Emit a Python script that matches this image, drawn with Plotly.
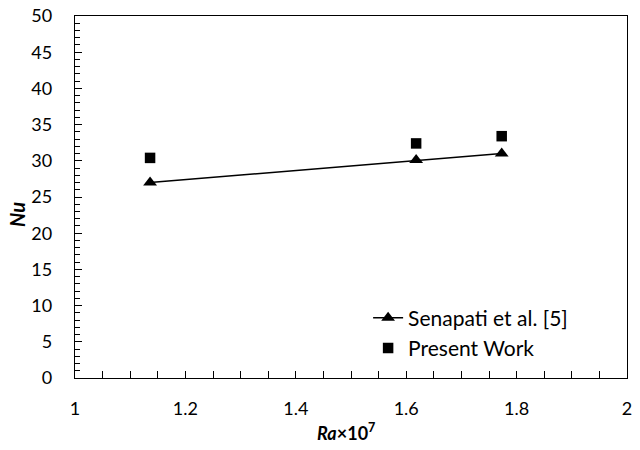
import plotly.graph_objects as go

ra = [1.136, 1.618, 1.773]
nu_senapati = [27.0, 30.1, 31.0]
nu_present = [30.4, 32.4, 33.4]
x_ticks = [1, 1.2, 1.4, 1.6, 1.8, 2]
x_tick_labels = ["1", "1.2", "1.4", "1.6", "1.8", "2"]

FONT = "Lato"

fig = go.Figure()
fig.add_trace(go.Scatter(
    x=ra, y=nu_senapati, mode="lines+markers", name="Senapati et al. [5]",
    line=dict(color="black", width=1.6),
    marker=dict(symbol="triangle-up", size=12, color="black"),
    legendgroup="a",
))
fig.add_trace(go.Scatter(
    x=ra, y=nu_present, mode="markers", name="Present Work",
    marker=dict(symbol="square", size=10.5, color="black"),
    legendgroup="b",
))

fig.update_layout(
    width=640, height=450,
    margin=dict(l=75, r=13, t=16, b=72),
    paper_bgcolor="white", plot_bgcolor="white",
    font=dict(family=FONT, size=18, color="black"),
    showlegend=True,
    legend=dict(x=0.531, y=0.222, xanchor="left", yanchor="top",
                bgcolor="rgba(0,0,0,0)", font=dict(size=21, family=FONT),
                tracegroupgap=0, itemwidth=30, traceorder="grouped"),
    annotations=[
        dict(text="<b><i>Ra</i>×10<sup>7</sup></b>", xref="paper", yref="paper",
             x=(346 - 75) / 552, y=-(432 - 378) / 362, xanchor="center", yanchor="middle",
             showarrow=False, font=dict(size=18, family=FONT)),
        dict(text="<b><i>Nu</i></b>", xref="paper", yref="paper",
             x=-(75 - 17) / 552, y=(378 - 215) / 362, xanchor="center", yanchor="middle",
             textangle=-90, showarrow=False, font=dict(size=20, family=FONT)),
    ],
)
fig.update_xaxes(
    range=[1, 2], tickvals=x_ticks, ticktext=x_tick_labels,
    ticks="inside", ticklen=7, tickcolor="black", tickwidth=1.2,
    minor=dict(dtick=0.05, ticks="inside", ticklen=7, tickcolor="black", tickwidth=1.2),
    showline=True, linecolor="black", linewidth=1.4, mirror=True,
    showgrid=False, zeroline=False, ticklabelstandoff=14, automargin=False,
    tickfont=dict(size=18),
)
fig.update_yaxes(
    range=[0, 50], dtick=5,
    ticks="inside", ticklen=7, tickcolor="black", tickwidth=1.2,
    minor=dict(dtick=1, ticks="inside", ticklen=5, tickcolor="black", tickwidth=1.2),
    showline=True, linecolor="black", linewidth=1.4, mirror=True,
    showgrid=False, zeroline=False, ticklabelstandoff=18, automargin=False,
    tickfont=dict(size=18),
)

fig.write_html("out.html", config={"displayModeBar": False},
               post_script="document.body.style.margin='0px';")
